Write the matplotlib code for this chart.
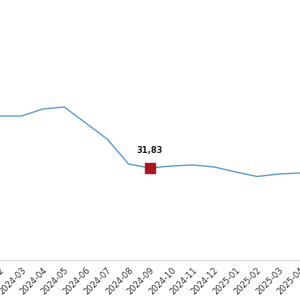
import numpy as np
import matplotlib
matplotlib.use("Agg")
import matplotlib.pyplot as plt

# monthly values
months = ["2024-02", "2024-03", "2024-04", "2024-05", "2024-06", "2024-07",
          "2024-08", "2024-09", "2024-10", "2024-11", "2024-12", "2025-01",
          "2025-02", "2025-03", "2025-04"]
values = [37.03, 37.03, 37.73, 37.93, 36.33, 34.73, 32.23, 31.83,
          32.03, 32.13, 31.93, 31.43, 30.98, 31.23, 31.33]
highlight = "2024-09"

fig = plt.figure(figsize=(3, 3), dpi=100)
ax = fig.add_axes([0, 40 / 300, 1, 260 / 300])

x = np.arange(len(months))
ax.plot(x, values, color="#5b9bd5", lw=1.0)

hi = months.index(highlight)
ax.plot(hi, values[hi], marker="s", ms=7.5, color="#b0151f", mec="#b0151f")
ax.annotate(f"{values[hi]:.2f}".replace(".", ","), (hi, values[hi]),
            xytext=(0, 9), textcoords="offset points", ha="center",
            va="bottom", fontsize=6, fontweight="bold", color="#222222")

ax.set_xlim(0.075, 13.31)
ax.set_ylim(22.63, 48.63)
ax.set_xticks(x)
ax.set_xticklabels(months, rotation=45, ha="right", rotation_mode="anchor",
                   fontsize=6, color="#333333")
ax.tick_params(axis="x", length=0, pad=4)
ax.set_yticks([])
for s in ["top", "left", "right"]:
    ax.spines[s].set_visible(False)
ax.spines["bottom"].set_color("#d9d9d9")
ax.spines["bottom"].set_linewidth(0.8)

fig.savefig("out.png", dpi=100)
